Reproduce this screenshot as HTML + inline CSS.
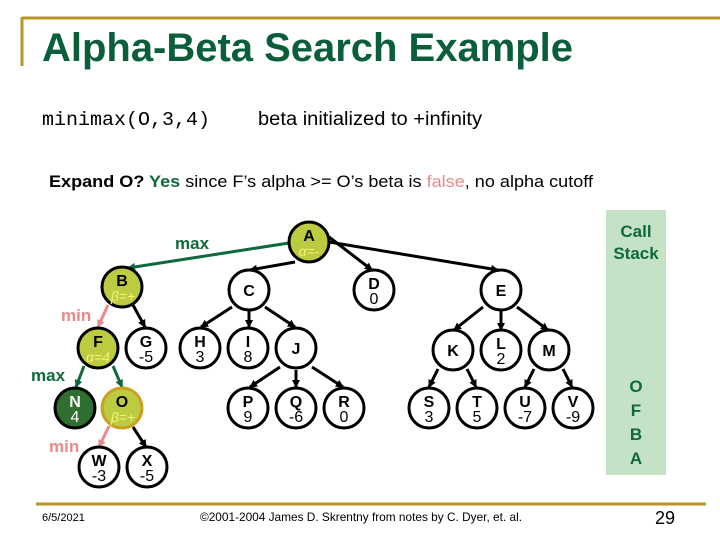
<!DOCTYPE html>
<html><head><meta charset="utf-8"><style>
html,body{margin:0;padding:0;background:#fff}
svg{display:block}
text{font-family:"Liberation Sans",Arial,sans-serif}
</style></head><body>
<svg width="720" height="540" viewBox="0 0 720 540" xmlns="http://www.w3.org/2000/svg">
<defs>
<marker id="ak" markerWidth="8" markerHeight="8" refX="7" refY="4" orient="auto" markerUnits="userSpaceOnUse"><path d="M0,0 L8,4 L0,8 z" fill="#000"/></marker>
<marker id="ag" markerWidth="8" markerHeight="8" refX="7" refY="4" orient="auto" markerUnits="userSpaceOnUse"><path d="M0,0 L8,4 L0,8 z" fill="#0e6a3c"/></marker>
<marker id="ap" markerWidth="8" markerHeight="8" refX="7" refY="4" orient="auto" markerUnits="userSpaceOnUse"><path d="M0,0 L8,4 L0,8 z" fill="#e88a8a"/></marker>
</defs>
<line x1="22" y1="18" x2="720" y2="18" stroke="#b8962a" stroke-width="3"/>
<line x1="22" y1="17" x2="22" y2="66" stroke="#b8962a" stroke-width="3"/>
<line x1="36" y1="504" x2="706" y2="504" stroke="#b8962a" stroke-width="3"/>
<text x="42" y="61" font-size="40" font-weight="bold" fill="#0b5e3a" textLength="531" lengthAdjust="spacingAndGlyphs">Alpha-Beta Search Example</text>
<text x="42" y="125" font-size="19" style="font-family:'Liberation Mono',monospace" textLength="168" lengthAdjust="spacingAndGlyphs">minimax(O,3,4)</text>
<text x="258" y="125" font-size="19" textLength="224" lengthAdjust="spacingAndGlyphs">beta initialized to +infinity</text>
<text x="49" y="187" font-size="17" font-weight="bold" textLength="544" lengthAdjust="spacingAndGlyphs">Expand O? <tspan fill="#0e6a3c">Yes</tspan> <tspan font-weight="normal">since F’s alpha &gt;= O’s beta is </tspan><tspan font-weight="normal" fill="#e88a8a">false</tspan><tspan font-weight="normal">, no alpha cutoff</tspan></text>
<rect x="606" y="210" width="60" height="265" fill="#c6e2c6"/>
<g font-size="17" font-weight="bold" fill="#0e6a3c" text-anchor="middle">
<text x="636" y="237">Call</text><text x="636" y="259">Stack</text>
<text x="636" y="392">O</text><text x="636" y="416">F</text><text x="636" y="440">B</text><text x="636" y="464">A</text>
</g>
<g stroke="#000" stroke-width="3" fill="none" marker-end="url(#ak)">
<line x1="295" y1="262" x2="250" y2="270"/>
<line x1="329" y1="237" x2="372" y2="270"/>
<line x1="329" y1="242" x2="498" y2="270"/>
<line x1="133" y1="305" x2="145" y2="327"/>
<line x1="232" y1="307" x2="201" y2="327"/>
<line x1="249" y1="310" x2="249" y2="327"/>
<line x1="265" y1="307" x2="295" y2="327"/>
<line x1="483" y1="307" x2="454" y2="330"/>
<line x1="501" y1="310" x2="501" y2="330"/>
<line x1="517" y1="307" x2="548" y2="330"/>
<line x1="280" y1="367" x2="250" y2="387"/>
<line x1="296" y1="370" x2="296" y2="387"/>
<line x1="312" y1="367" x2="343" y2="387"/>
<line x1="438" y1="369" x2="429" y2="387"/>
<line x1="467" y1="369" x2="476" y2="387"/>
<line x1="534" y1="369" x2="525" y2="387"/>
<line x1="563" y1="369" x2="572" y2="387"/>
<line x1="133" y1="427" x2="146" y2="447"/>
</g>
<line x1="289" y1="243" x2="128" y2="268" stroke="#0e6a3c" stroke-width="3" marker-end="url(#ag)"/>
<line x1="108" y1="305" x2="98" y2="327" stroke="#e88a8a" stroke-width="3" marker-end="url(#ap)"/>
<line x1="84" y1="366" x2="76" y2="387" stroke="#0e6a3c" stroke-width="3" marker-end="url(#ag)"/>
<line x1="113" y1="366" x2="122" y2="387" stroke="#0e6a3c" stroke-width="3" marker-end="url(#ag)"/>
<line x1="109" y1="426" x2="99" y2="447" stroke="#e88a8a" stroke-width="3" marker-end="url(#ap)"/>
<text x="175" y="249" font-size="17" font-weight="bold" fill="#0e6a3c">max</text>
<text x="61" y="321" font-size="17" font-weight="bold" fill="#e88a8a">min</text>
<text x="31" y="381" font-size="17" font-weight="bold" fill="#0e6a3c">max</text>
<text x="49" y="452" font-size="17" font-weight="bold" fill="#e88a8a">min</text>
<g stroke="#000" stroke-width="3">
<circle cx="309" cy="242" r="20" fill="#bccb3f"/>
<circle cx="122" cy="287" r="20" fill="#bccb3f"/>
<circle cx="98" cy="348" r="20" fill="#bccb3f"/>
<circle cx="75" cy="408" r="20" fill="#2f6f2f"/>
<circle cx="122" cy="408" r="20" fill="#bccb3f" stroke="#c9a020"/>
<g fill="#fff">
<circle cx="249" cy="290" r="20"/><circle cx="374" cy="290" r="20"/><circle cx="501" cy="290" r="20"/>
<circle cx="146" cy="348" r="20"/><circle cx="200" cy="348" r="20"/><circle cx="248" cy="348" r="20"/><circle cx="296" cy="348" r="20"/>
<circle cx="453" cy="350" r="20"/><circle cx="501" cy="350" r="20"/><circle cx="549" cy="350" r="20"/>
<circle cx="248" cy="408" r="20"/><circle cx="296" cy="408" r="20"/><circle cx="344" cy="408" r="20"/>
<circle cx="429" cy="408" r="20"/><circle cx="477" cy="408" r="20"/><circle cx="525" cy="408" r="20"/><circle cx="573" cy="408" r="20"/>
<circle cx="99" cy="467" r="20"/><circle cx="147" cy="467" r="20"/>
</g></g>
<g font-size="16" font-weight="bold" text-anchor="middle">
<text x="309" y="241">A</text><text x="309" y="256" font-size="14" font-style="italic" font-weight="normal" fill="#f5f07a">α=-</text>
<text x="122" y="286">B</text><text x="123" y="301" font-size="14" font-style="italic" font-weight="normal" fill="#f5f07a">β=+</text>
<text x="98" y="347">F</text><text x="98" y="362" font-size="14" font-style="italic" font-weight="normal" fill="#f5f07a">α=4</text>
<text x="75" y="407" fill="#fff">N</text><text x="75" y="422" font-weight="normal" fill="#fff">4</text>
<text x="122" y="407">O</text><text x="123" y="422" font-size="14" font-style="italic" font-weight="normal" fill="#f5f07a">β=+</text>
<text x="249" y="296">C</text>
<text x="374" y="289">D</text><text x="374" y="304" font-weight="normal">0</text>
<text x="501" y="296">E</text>
<text x="146" y="347">G</text><text x="146" y="362" font-weight="normal">-5</text>
<text x="200" y="347">H</text><text x="200" y="362" font-weight="normal">3</text>
<text x="248" y="347">I</text><text x="248" y="362" font-weight="normal">8</text>
<text x="296" y="354">J</text>
<text x="453" y="356">K</text>
<text x="501" y="349">L</text><text x="501" y="364" font-weight="normal">2</text>
<text x="549" y="356">M</text>
<text x="248" y="407">P</text><text x="248" y="422" font-weight="normal">9</text>
<text x="296" y="407">Q</text><text x="296" y="422" font-weight="normal">-6</text>
<text x="344" y="407">R</text><text x="344" y="422" font-weight="normal">0</text>
<text x="429" y="407">S</text><text x="429" y="422" font-weight="normal">3</text>
<text x="477" y="407">T</text><text x="477" y="422" font-weight="normal">5</text>
<text x="525" y="407">U</text><text x="525" y="422" font-weight="normal">-7</text>
<text x="573" y="407">V</text><text x="573" y="422" font-weight="normal">-9</text>
<text x="99" y="466">W</text><text x="99" y="481" font-weight="normal">-3</text>
<text x="147" y="466">X</text><text x="147" y="481" font-weight="normal">-5</text>
</g>
<text x="42" y="521" font-size="11">6/5/2021</text>
<text x="200" y="521" font-size="12" textLength="322" lengthAdjust="spacingAndGlyphs">©2001-2004 James D. Skrentny from notes by C. Dyer, et. al.</text>
<text x="665" y="524" font-size="18" text-anchor="middle">29</text>
</svg>
</body></html>
